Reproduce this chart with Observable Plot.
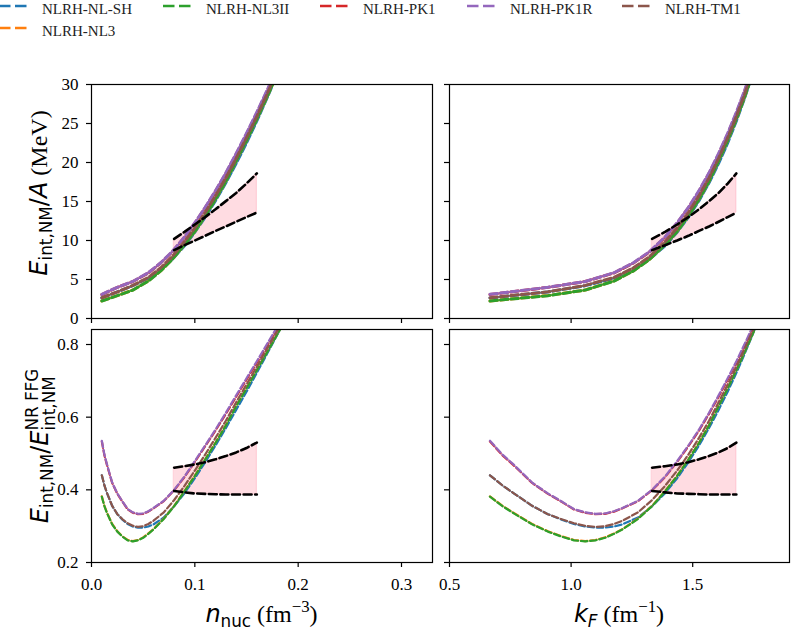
<!DOCTYPE html>
<html><head><meta charset="utf-8">
<script src="https://cdn.jsdelivr.net/npm/d3@7"></script>
<script src="https://cdn.jsdelivr.net/npm/@observablehq/plot@0.6"></script>
<style>
html,body{margin:0;padding:0;background:#fff;}
#chart{position:relative;width:791px;height:630px;overflow:hidden;background:#fff;}
#chart > svg{position:absolute;}
#chart text{white-space:pre;}
</style></head><body><div id="chart"></div>
<script>
// ---------------- data ----------------
const models = ["NLRH-NL-SH", "NLRH-NL3", "NLRH-NL3II", "NLRH-PK1", "NLRH-PK1R", "NLRH-TM1"];
const colors = ["#1f77b4", "#ff7f0e", "#2ca02c", "#d62728", "#9467bd", "#8c564b"];

// top panels: E_int,NM/A (MeV)
const nTop  = [0.01, 0.025, 0.04, 0.055, 0.067, 0.078, 0.09, 0.10, 0.11, 0.12, 0.13, 0.14, 0.15, 0.16, 0.17, 0.18];
const kfTop = [0.6664, 0.9046, 1.0580, 1.1765, 1.2564, 1.3219, 1.3864, 1.4360, 1.4823, 1.5259, 1.5671, 1.6065, 1.6438, 1.6796, 1.7139, 1.7467];
const eNLSH  = [2.64, 3.41, 4.21, 5.15, 6.25, 7.58, 9.32, 11.07, 13.00, 15.11, 17.40, 19.88, 22.51, 25.33, 28.30, 31.42];
const eNL3   = [2.25, 2.94, 3.65, 4.81, 6.11, 7.57, 9.48, 11.18, 13.17, 15.30, 17.59, 20.21, 22.82, 25.58, 28.46, 31.46];
const eNL3II = [2.24, 2.93, 3.64, 4.80, 6.10, 7.56, 9.47, 11.17, 13.16, 15.29, 17.58, 20.20, 22.81, 25.57, 28.45, 31.45];
const ePK1   = [3.07, 3.99, 4.74, 5.83, 7.11, 8.52, 10.40, 12.22, 14.18, 16.30, 18.58, 21.05, 23.63, 26.32, 29.15, 32.10];
const ePK1R  = [3.10, 4.00, 4.75, 5.87, 7.15, 8.56, 10.45, 12.28, 14.25, 16.39, 18.68, 21.16, 23.75, 26.45, 29.29, 32.25];
const eTM1   = [2.66, 3.42, 4.24, 5.27, 6.50, 7.93, 9.83, 11.61, 13.57, 15.72, 18.01, 20.55, 23.18, 25.92, 28.81, 31.79];

// bottom panels: E_int,NM / E_FFG
const nBot  = [0.01, 0.0125, 0.015, 0.02, 0.025, 0.03, 0.035, 0.04, 0.045, 0.05, 0.055, 0.06, 0.07, 0.08, 0.09, 0.10, 0.11, 0.12, 0.13, 0.14, 0.15, 0.16, 0.17, 0.18, 0.19];
const kfBot = [0.6664, 0.7179, 0.7629, 0.8397, 0.9046, 0.9613, 1.0119, 1.0580, 1.1004, 1.1397, 1.1765, 1.2112, 1.2750, 1.3330, 1.3864, 1.4360, 1.4823, 1.5259, 1.5671, 1.6065, 1.6438, 1.6796, 1.7139, 1.7467, 1.7786];
const rNLSH  = [0.440, 0.412, 0.391, 0.356, 0.333, 0.318, 0.306, 0.299, 0.296, 0.296, 0.299, 0.305, 0.324, 0.355, 0.391, 0.432, 0.476, 0.522, 0.570, 0.620, 0.670, 0.722, 0.775, 0.828, 0.882];
const rNL3   = [0.382, 0.356, 0.337, 0.306, 0.286, 0.272, 0.262, 0.259, 0.262, 0.269, 0.280, 0.292, 0.321, 0.356, 0.397, 0.439, 0.484, 0.530, 0.578, 0.631, 0.680, 0.730, 0.780, 0.830, 0.880];
const rNL3II = [0.381, 0.355, 0.336, 0.305, 0.285, 0.271, 0.261, 0.258, 0.261, 0.268, 0.279, 0.291, 0.320, 0.355, 0.396, 0.438, 0.483, 0.529, 0.577, 0.630, 0.679, 0.729, 0.779, 0.829, 0.879];
const rPK1   = [0.533, 0.495, 0.468, 0.419, 0.389, 0.367, 0.346, 0.337, 0.333, 0.334, 0.340, 0.349, 0.369, 0.399, 0.435, 0.477, 0.520, 0.563, 0.609, 0.656, 0.703, 0.750, 0.798, 0.846, 0.894];
const rPK1R  = [0.535, 0.497, 0.470, 0.420, 0.390, 0.368, 0.347, 0.338, 0.334, 0.335, 0.341, 0.350, 0.370, 0.400, 0.437, 0.479, 0.522, 0.566, 0.612, 0.660, 0.707, 0.754, 0.802, 0.850, 0.898];
const rTM1   = [0.440, 0.412, 0.391, 0.356, 0.333, 0.319, 0.308, 0.301, 0.298, 0.300, 0.306, 0.315, 0.338, 0.372, 0.411, 0.453, 0.497, 0.543, 0.590, 0.641, 0.690, 0.739, 0.789, 0.838, 0.888];

// constraint band
const bandN   = [0.08, 0.09, 0.10, 0.11, 0.12, 0.13, 0.14, 0.15, 0.16];
const bandKf  = [1.3330, 1.3864, 1.4360, 1.4823, 1.5259, 1.5671, 1.6065, 1.6438, 1.6796];
const bandEHi = [10.2, 11.1, 12.05, 13.0, 14.0, 15.05, 16.1, 17.3, 18.6];
const bandELo = [8.77, 9.4, 10.0, 10.6, 11.23, 11.8, 12.4, 13.0, 13.58];
const bandRHi = [0.461, 0.465, 0.470, 0.476, 0.484, 0.493, 0.503, 0.515, 0.530];
const bandRLo = [0.397, 0.393, 0.390, 0.389, 0.388, 0.387, 0.387, 0.387, 0.387];

// ticks
const xTicksN  = [0.0, 0.1, 0.2, 0.3];
const xTicksKf = [0.5, 1.0, 1.5];
const yTicksE  = [0, 5, 10, 15, 20, 25, 30];
const yTicksR  = [0.2, 0.4, 0.6, 0.8];

const topSeries = [eNLSH, eNL3, eNL3II, ePK1, ePK1R, eTM1];
const botSeries = [rNLSH, rNL3, rNL3II, rPK1, rPK1R, rTM1];

// ---------------- build ----------------
const chart = document.getElementById("chart");
const SERIF = "'Liberation Serif', 'Times New Roman', serif";
const MATH = "'DejaVu Sans', sans-serif";

function rows(xs, ys) { return xs.map((x, i) => ({x, y: ys[i]})); }
function bandRows(xs, lo, hi) { return xs.map((x, i) => ({x, lo: lo[i], hi: hi[i]})); }

function panel(cfg) {
  const {left, top, fw, fh, mL, mR, mT, mB, xDomain, yDomain, xs, series, sw, dash,
         bx, blo, bhi, xTicks, xFmt, yTicks, yFmt} = cfg;
  const marks = [];
  marks.push(Plot.areaY(bandRows(bx, blo, bhi), {x: "x", y1: "lo", y2: "hi", fill: "#ffc0cb", fillOpacity: 0.55, stroke: "#ffb0bf", strokeWidth: 0.6}));
  series.forEach((ys, k) => {
    marks.push(Plot.line(rows(xs, ys), {x: "x", y: "y", stroke: colors[k], strokeWidth: sw, strokeDasharray: dash, clip: true}));
  });
  marks.push(Plot.line(rows(bx, bhi), {x: "x", y: "y", stroke: "#000", strokeWidth: 2.6, strokeDasharray: "8,3.6"}));
  marks.push(Plot.line(rows(bx, blo), {x: "x", y: "y", stroke: "#000", strokeWidth: 2.6, strokeDasharray: "8,3.6"}));
  marks.push(Plot.frame({stroke: "#000", strokeWidth: 1.2}));
  marks.push(Plot.axisX({ticks: xTicks, tickFormat: xFmt, tickSize: 5, tickPadding: 10, label: null, strokeWidth: 1.2, fontSize: 17}));
  marks.push(Plot.axisY({ticks: yTicks, tickFormat: yFmt, tickSize: 5, tickPadding: 8, label: null, strokeWidth: 1.2, fontSize: 17}));
  const svg = Plot.plot({
    width: fw + mL + mR, height: fh + mT + mB,
    marginLeft: mL, marginRight: mR, marginTop: mT, marginBottom: mB,
    x: {domain: xDomain}, y: {domain: yDomain},
    style: {background: "none", fontSize: "17px", color: "#000", overflow: "visible"},
    marks
  });
  svg.style.position = "absolute";
  svg.style.left = (left - mL) + "px";
  svg.style.top = (top - mT) + "px";
  svg.setAttribute("font-family", SERIF);
  svg.style.fontFamily = SERIF;
  d3.select(svg).selectAll("g[aria-label$='axis'], g[aria-label$='tick label']").attr("font-family", SERIF);
  d3.select(svg).selectAll("text").attr("font-family", SERIF).style("font-family", SERIF).style("fill", "#000");
  chart.appendChild(svg);
}

const blank = () => "";
const f1 = d => d.toFixed(1);
const f0 = d => String(d);

panel({left: 91, top: 84, fw: 341, fh: 234, mL: 52, mR: 4, mT: 4, mB: 10,
  xDomain: [0, 0.33], yDomain: [0, 30], xs: nTop, series: topSeries, sw: 3, dash: "7.5,3",
  bx: bandN, blo: bandELo, bhi: bandEHi, xTicks: xTicksN, xFmt: blank, yTicks: yTicksE, yFmt: f0});
panel({left: 449, top: 84, fw: 340, fh: 234, mL: 10, mR: 2, mT: 4, mB: 10,
  xDomain: [0.5, 1.898], yDomain: [0, 30], xs: kfTop, series: topSeries, sw: 3, dash: "7.5,3",
  bx: bandKf, blo: bandELo, bhi: bandEHi, xTicks: xTicksKf, xFmt: blank, yTicks: yTicksE, yFmt: blank});
panel({left: 91, top: 329, fw: 341, fh: 233, mL: 52, mR: 4, mT: 4, mB: 40,
  xDomain: [0, 0.33], yDomain: [0.2, 0.8413], xs: nBot, series: botSeries, sw: 2.2, dash: "6.5,2.8",
  bx: bandN, blo: bandRLo, bhi: bandRHi, xTicks: xTicksN, xFmt: f1, yTicks: yTicksR, yFmt: f1});
panel({left: 449, top: 329, fw: 340, fh: 233, mL: 20, mR: 2, mT: 4, mB: 40,
  xDomain: [0.5, 1.898], yDomain: [0.2, 0.8413], xs: kfBot, series: botSeries, sw: 2.2, dash: "6.5,2.8",
  bx: bandKf, blo: bandRLo, bhi: bandRHi, xTicks: xTicksKf, xFmt: f1, yTicks: yTicksR, yFmt: blank});

// ---------------- overlay: legend + axis labels ----------------
const ov = d3.select(chart).append("svg").attr("width", 791).attr("height", 630)
  .style("left", "0px").style("top", "0px").style("pointer-events", "none");

const legendPos = [
  {k: 0, x0: -1, y: 6}, {k: 1, x0: -1, y: 28}, {k: 2, x0: 163, y: 6},
  {k: 3, x0: 320, y: 6}, {k: 4, x0: 467, y: 6}, {k: 5, x0: 622, y: 6}
];
legendPos.forEach(({k, x0, y}) => {
  ov.append("line").attr("x1", x0).attr("x2", x0 + 28).attr("y1", y).attr("y2", y)
    .attr("stroke", colors[k]).attr("stroke-width", 2.6).attr("stroke-dasharray", "11.5,4.5");
  ov.append("text").attr("x", x0 + 43).attr("y", y + 8).style("font-family", SERIF)
    .style("font-size", "15px").attr("fill", "#222").text(models[k]);
});

const F = 24;
function rich(x, y, rot, runs) {
  const g = ov.append("g").attr("transform", `translate(${x},${y}) rotate(${rot})`);
  const inner = g.append("g");
  let cx = 0;
  const put = (r, atx) => {
    const t = inner.append("text").attr("x", atx).attr("y", r.dy || 0)
      .style("font-family", r.f || MATH).style("font-size", (r.s || F) + "px")
      .style("font-style", r.i ? "italic" : "normal").attr("fill", "#000").text(r.t);
    return t.node().getComputedTextLength();
  };
  runs.forEach(r => {
    if (r.stack) { cx += Math.max(...r.stack.map(s => put(s, cx))); }
    else { cx += put(r, cx) + (r.gap || 0); }
  });
  inner.attr("transform", `translate(${-cx / 2},0)`);
}
const sub = (t, extra) => Object.assign({t, s: 0.7 * F, dy: 0.22 * F}, extra || {});
const sup = (t, extra) => Object.assign({t, s: 0.7 * F, dy: -0.42 * F}, extra || {});

rich(261.5, 622, 0, [
  {t: "n", i: true}, sub("nuc", {gap: 6}), {t: "(fm", f: SERIF}, sup("\u22123", {f: SERIF}), {t: ")", f: SERIF}
]);
rich(619, 622, 0, [
  {t: "k", i: true}, sub("F", {i: true, gap: 6}), {t: "(fm", f: SERIF}, sup("\u22121", {f: SERIF}), {t: ")", f: SERIF}
]);
rich(47, 193, -90, [
  {t: "E", i: true}, sub("int,NM"), {t: "/"}, {t: "A", i: true, gap: 6}, {t: "(MeV)", f: SERIF}
]);
rich(48, 446, -90, [
  {t: "E", i: true}, sub("int,NM"), {t: "/"}, {t: "E", i: true},
  {stack: [sup("NR FFG"), sub("int,NM", {dy: 0.3 * F})]}
]);
</script></body></html>
